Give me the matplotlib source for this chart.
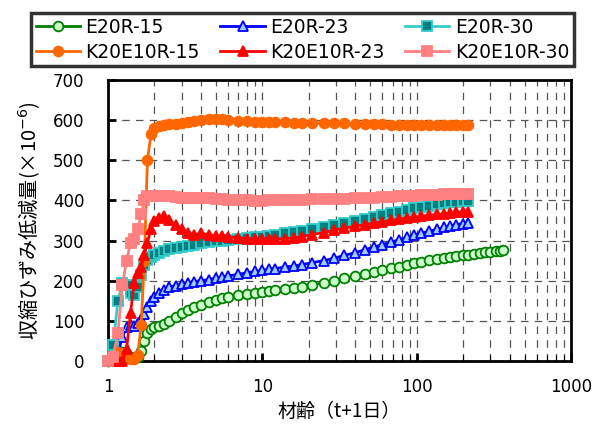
import matplotlib
matplotlib.use("Agg")
import matplotlib.pyplot as plt
from matplotlib.ticker import LogLocator, NullFormatter, FixedLocator

plt.rcParams['font.family'] = ['DejaVu Sans', 'Noto Sans CJK JP']
jp = ['Noto Sans CJK JP', 'DejaVu Sans']

# 材齢 (t+1日)
age = [1.0, 1.08, 1.16, 1.24, 1.32, 1.4, 1.48, 1.56, 1.64, 1.72,
       1.8, 1.9, 2.0, 2.15, 2.3, 2.5, 2.75, 3.0, 3.3, 3.6,
       4.0, 4.5, 5.0, 5.5, 6.0, 7.0, 8.0, 9.0, 10, 11,
       12, 14, 16, 18, 21, 25, 29, 34, 40, 46,
       53, 60, 68, 77, 86, 96, 107, 120, 135, 150,
       165, 180, 198, 215]
age_e15 = age + [235, 255, 275, 300, 325, 345, 362]

e20r_15 = [0, 18, 25, 22, 15, 10, 8, 10, 25, 50,
           70, 80, 85, 88, 92, 100, 110, 119, 128, 134,
           140, 146, 152, 156, 159, 164, 167, 170, 172, 174,
           176, 179, 182, 185, 190, 195, 200, 206, 212, 217,
           222, 226, 231, 235, 239, 243, 247, 251, 254, 257,
           259, 261, 263, 265, 267, 269, 271, 272, 274, 275, 276]
e20r_23 = [0, 5, 20, 60, 85, 90, 88, 95, 105, 118,
           135, 150, 160, 170, 178, 184, 188, 192, 195, 198,
           200, 203, 206, 209, 212, 216, 220, 223, 226, 228,
           230, 234, 237, 240, 245, 250, 256, 263, 270, 277,
           284, 290, 296, 302, 308, 313, 318, 323, 328, 333,
           337, 340, 342, 344]
e20r_30 = [0, 40, 150, 195, 190, 170, 165, 185, 215, 240,
           252, 260, 265, 270, 274, 278, 281, 284, 287, 290,
           293, 296, 298, 300, 302, 304, 306, 308, 310, 312,
           314, 318, 322, 325, 329, 334, 338, 343, 349, 354,
           359, 363, 368, 372, 376, 380, 384, 387, 390, 393,
           395, 397, 398, 399]
k_15 = [0, 12, 22, 15, 8, 5, 5, 15, 90, 250,
        500, 565, 580, 585, 588, 590, 590, 592, 595, 597,
        600, 602, 603, 602, 600, 598, 597, 596, 596, 595,
        595, 595, 594, 594, 593, 593, 592, 592, 591, 591,
        590, 590, 589, 589, 589, 588, 588, 588, 588, 589,
        589, 588, 587, 587]
k_23 = [0, 0, 0, 0, 30, 120, 195, 220, 235, 265,
        295, 330, 348, 357, 360, 352, 338, 328, 320, 315,
        318, 315, 312, 311, 309, 307, 305, 304, 304, 304,
        304, 305, 307, 310, 315, 320, 326, 331, 336, 340,
        344, 347, 350, 353, 356, 358, 361, 363, 365, 367,
        368, 370, 371, 372]
k_30 = [0, 10, 70, 190, 250, 295, 305, 330, 365, 400,
        410, 412, 412, 411, 410, 410, 408, 407, 406, 406,
        405, 405, 404, 403, 402, 400, 400, 399, 399, 400,
        400, 401, 402, 402, 403, 404, 404, 404, 405, 406,
        407, 408, 409, 410, 411, 412, 413, 414, 414, 415,
        415, 416, 416, 416]

series = [
    ("E20R-15", age_e15, e20r_15, "#008000", "o", "#ccffcc"),
    ("E20R-23", age, e20r_23, "#0000ff", "^", "#99ccff"),
    ("E20R-30", age, e20r_30, "#33cccc", "s", "#008080"),
    ("K20E10R-15", age, k_15, "#ff6600", "o", "#ff6600"),
    ("K20E10R-23", age, k_23, "#ff0000", "^", "#ff0000"),
    ("K20E10R-30", age, k_30, "#ff8080", "s", "#ff8080"),
]

fig = plt.figure(figsize=(6.05, 4.26), dpi=100)
ax = fig.add_axes([0.1785, 0.1526, 0.7655, 0.6596])

lines = []
for name, x, y, col, mk, fc in series:
    ln, = ax.plot(x, y, color=col, lw=2, marker=mk, markersize=7,
                  markerfacecolor=fc, markeredgecolor=col, markeredgewidth=1.3,
                  label=name, clip_on=False, zorder=3)
    lines.append(ln)

ax.set_xscale('log')
ax.set_xlim(1, 1000)
ax.set_ylim(0, 700)
ax.yaxis.set_major_locator(FixedLocator(range(0, 701, 100)))
ax.xaxis.set_major_locator(FixedLocator([1, 10, 100, 1000]))
ax.xaxis.set_minor_locator(LogLocator(base=10, subs=range(2, 10)))
ax.xaxis.set_minor_formatter(NullFormatter())
ax.set_xticklabels(['1', '10', '100', '1000'])

ax.tick_params(axis='both', which='major', direction='in', length=6, width=2,
               labelsize=12, pad=12.5)
ax.tick_params(axis='x', which='minor', direction='in', length=4, width=0.8)
ax.tick_params(axis='y', pad=17)
for s in ax.spines.values():
    s.set_linewidth(2)

ax.grid(True, which='major', axis='y', color='#555555', ls=(0, (6, 5)), lw=0.9)
ax.grid(True, which='both', axis='x', color='#555555', ls=(0, (6, 5)), lw=0.9)

ax.set_xlabel('材齢（t+1日）', fontsize=13.7, family=jp, labelpad=3)
ax.set_ylabel('収縮ひずみ低減量(×10$^{-6}$)', fontsize=14.5, family=jp, labelpad=8)

# legend filled row by row
order = [0, 3, 1, 4, 2, 5]
leg = fig.legend([lines[i] for i in order], [series[i][0] for i in order],
                 loc='center', bbox_to_anchor=(31 / 605, 1 - 66.7 / 426, 543 / 605, 54 / 426),
                 ncol=3, mode='expand', fontsize=13.5, frameon=True,
                 fancybox=False, edgecolor='black', handlelength=2.35,
                 borderpad=0.25, labelspacing=0.3, columnspacing=0.5,
                 handletextpad=0.3, borderaxespad=0)
leg.get_frame().set_linewidth(2.5)

fig.savefig('out.png', dpi=100)
